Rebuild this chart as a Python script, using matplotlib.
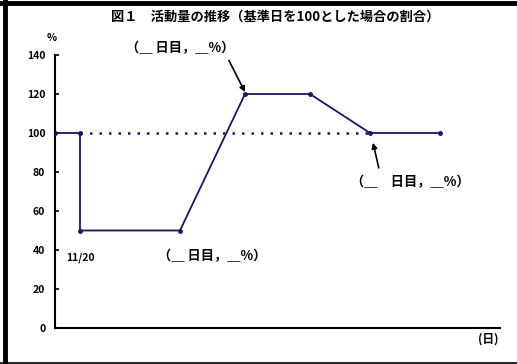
import matplotlib
matplotlib.use("Agg")
import matplotlib.pyplot as plt
from matplotlib.lines import Line2D

plt.rcParams['font.family'] = ['Noto Sans CJK JP', 'DejaVu Sans']

# data
days = [0, 5, 5, 25, 38, 51, 63, 77]
values = [100, 100, 50, 50, 120, 120, 100, 100]
baseline_x = [5, 63]
baseline_y = [100, 100]
yticks = [0, 20, 40, 60, 80, 100, 120, 140]
title = "図１　活動量の推移（基準日を100とした場合の割合）"
label_text = "（＿ 日目，＿%）"
label_text_wide = "（＿　日目，＿%）"
start_label = "11/20"

navy = "#1a1560"

fig = plt.figure(figsize=(5.17, 3.64), dpi=100)
ax = fig.add_axes([55/517, 36/364, 445/517, 273/364])

ax.plot(days, values, color=navy, lw=1.3, marker='o', ms=2.5, zorder=3)
ax.plot(baseline_x, baseline_y, color=navy, lw=1.8, ls=(0, (1.0, 2.8)), zorder=2)

ax.set_xlim(0, 89)
ax.set_ylim(0, 140)
ax.set_yticks(yticks)
ax.set_xticks([])
ax.tick_params(axis='y', direction='in', length=3, width=1.2, labelsize=7.5, pad=7)
for lbl in ax.get_yticklabels():
    lbl.set_fontweight('bold')
for s in ['top', 'right']:
    ax.spines[s].set_visible(False)
ax.spines['left'].set_linewidth(1.5)
ax.spines['bottom'].set_linewidth(1.5)

# annotations
ax.annotate(label_text, xy=(38, 121), xytext=(25, 143.5), fontsize=9.5, fontweight='bold',
            ha='center', va='center', annotation_clip=False,
            arrowprops=dict(arrowstyle='-|>', color='black', lw=1.2, mutation_scale=8,
                            shrinkA=2, shrinkB=0, relpos=(0.92, 0.1)))
ax.annotate(label_text_wide, xy=(63.6, 95), xytext=(71, 75), fontsize=9.5, fontweight='bold',
            ha='center', va='center', annotation_clip=False,
            arrowprops=dict(arrowstyle='-|>', color='black', lw=1.2, mutation_scale=8,
                            shrinkA=3, shrinkB=0, relpos=(0.25, 1.0)))
ax.text(31.5, 37, label_text, fontsize=9.5, fontweight='bold', ha='center', va='center')
ax.text(2.2, 36, start_label, fontsize=7.5, fontweight='bold', ha='left', va='center')

fig.text(52/517, 1 - 38/364, "%", fontsize=7.5, fontweight='bold', ha='center', va='center')
fig.text(488/517, 1 - 339/364, "(日)", fontsize=8.5, fontweight='bold', ha='center', va='center')
fig.text(275/517, 1 - 17/364, title, fontsize=9.5, fontweight='bold', ha='center', va='center')

# frame
fig.add_artist(Line2D([5/517, 5/517], [0, 1], transform=fig.transFigure, color='black', lw=3.5))
fig.add_artist(Line2D([0, 1], [1 - 2.5/364, 1 - 2.5/364], transform=fig.transFigure, color='black', lw=3.5))
fig.add_artist(Line2D([0, 1], [1 - 363/364, 1 - 363/364], transform=fig.transFigure, color='black', lw=1.2))

fig.savefig("out.png", dpi=100)
